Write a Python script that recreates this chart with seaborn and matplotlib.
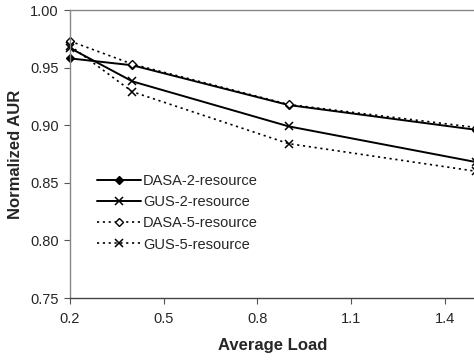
import matplotlib
matplotlib.use("Agg")
import matplotlib.pyplot as plt
import seaborn as sns
import pandas as pd

load = [0.2, 0.4, 0.9, 1.5]
dasa2 = [0.958, 0.952, 0.9175, 0.896]
gus2 = [0.967, 0.938, 0.899, 0.868]
dasa5 = [0.973, 0.953, 0.918, 0.898]
gus5 = [0.969, 0.929, 0.884, 0.860]
names = ["DASA-2-resource", "GUS-2-resource", "DASA-5-resource", "GUS-5-resource"]
xticks = [0.2, 0.5, 0.8, 1.1, 1.4]
yticks = [0.75, 0.80, 0.85, 0.90, 0.95, 1.00]

sns.set_style("white")
plt.rcParams['font.family'] = ['Liberation Sans', 'DejaVu Sans']

fig = plt.figure(figsize=(4.74, 3.6), dpi=100)
ax = fig.add_axes([70/474, 62/360, 406/474, 288/360])

dotted = (0, (1.3, 2.2))
styles = [
    dict(color="black", lw=1.4, ls="-", marker="D", ms=4.5, mfc="black", mec="black", mew=1.0),
    dict(color="black", lw=1.4, ls="-", marker="x", ms=6, mfc="black", mec="black", mew=1.1),
    dict(color="black", lw=1.2, ls=dotted, marker="D", ms=4.5, mfc="white", mec="black", mew=1.0),
    dict(color="black", lw=1.2, ls=dotted, marker="x", ms=6, mfc="black", mec="black", mew=1.1),
]
series = [dasa2, gus2, dasa5, gus5]
for name, vals, st in zip(names, series, styles):
    df = pd.DataFrame({"load": load, "aur": vals})
    sns.lineplot(data=df, x="load", y="aur", ax=ax, label=name,
                 color=st["color"], linewidth=st["lw"], linestyle=st["ls"],
                 marker=st["marker"], markersize=st["ms"], markerfacecolor=st["mfc"],
                 markeredgecolor=st["mec"], markeredgewidth=st["mew"], clip_on=False)

ax.set_xlim(0.2, 1.5)
ax.set_ylim(0.75, 1.00)
ax.set_xticks(xticks)
ax.set_xticklabels([f"{v:.1f}" for v in xticks])
ax.set_yticks(yticks)
ax.set_yticklabels([f"{v:.2f}" for v in yticks])
ax.tick_params(axis="both", which="major", labelsize=10.5, length=4, width=0.8,
               color="#555555", direction="out", left=True, bottom=True, pad=4)
ax.tick_params(axis="x", pad=6)
for side in ["top", "left"]:
    ax.spines[side].set_color("#888888")
    ax.spines[side].set_linewidth(1.0)
ax.spines["bottom"].set_color("#444444")
ax.spines["bottom"].set_linewidth(1.0)
ax.spines["right"].set_visible(False)

ax.set_xlabel("Average Load", fontsize=12, fontweight="bold", labelpad=9)
ax.set_ylabel("Normalized AUR", fontsize=12, fontweight="bold", labelpad=5)

ax.legend(loc="upper left", bbox_to_anchor=(0.052, 0.452), frameon=False,
          fontsize=10.5, handlelength=3.0, handletextpad=0.15, labelspacing=0.5,
          borderaxespad=0)

fig.savefig("out.png", dpi=100)
